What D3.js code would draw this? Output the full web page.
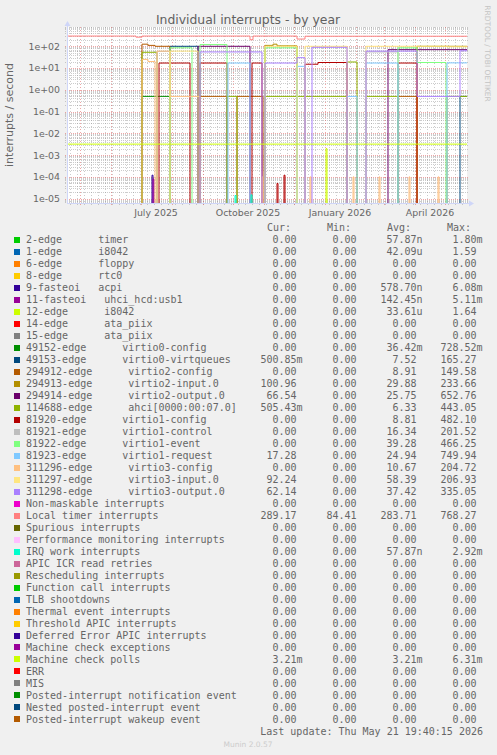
<!DOCTYPE html>
<html><head><meta charset="utf-8">
<script src="https://cdn.jsdelivr.net/npm/d3@7"></script>
<style>
html,body{margin:0;padding:0;background:#F0F0F0;}
svg{display:block;}
</style></head><body>
<svg id="c" width="497" height="755"></svg>
<script>
// ---------- legend / stats ----------
const legendLabels = [
"2-edge      timer","1-edge      i8042","6-edge      floppy","8-edge      rtc0",
"9-fasteoi   acpi","11-fasteoi   uhci_hcd:usb1","12-edge      i8042","14-edge      ata_piix",
"15-edge      ata_piix","49152-edge      virtio0-config","49153-edge      virtio0-virtqueues",
"294912-edge      virtio2-config","294913-edge      virtio2-input.0","294914-edge      virtio2-output.0",
"114688-edge      ahci[0000:00:07.0]","81920-edge      virtio1-config","81921-edge      virtio1-control",
"81922-edge      virtio1-event","81923-edge      virtio1-request","311296-edge      virtio3-config",
"311297-edge      virtio3-input.0","311298-edge      virtio3-output.0","Non-maskable interrupts",
"Local timer interrupts","Spurious interrupts","Performance monitoring interrupts","IRQ work interrupts",
"APIC ICR read retries","Rescheduling interrupts","Function call interrupts","TLB shootdowns",
"Thermal event interrupts","Threshold APIC interrupts","Deferred Error APIC interrupts",
"Machine check exceptions","Machine check polls","ERR","MIS","Posted-interrupt notification event",
"Nested posted-interrupt event","Posted-interrupt wakeup event"];
const colors = ["#00CC00","#0066B3","#FF8000","#FFCC00","#330099","#990099","#CCFF00","#FF0000","#808080",
"#008F00","#00487D","#B35A00","#B38F00","#6B006B","#8FB300","#B30000","#BEBEBE","#80FF80","#80C9FF",
"#FFC080","#FFE680","#AA80FF","#EE00CC","#FF8080","#666600","#FFBFFF","#00FFCC","#CC6699","#999900",
"#00CC00","#0066B3","#FF8000","#FFCC00","#330099","#990099","#CCFF00","#FF0000","#808080","#008F00",
"#00487D","#B35A00"];
const curVals = ["0.00","0.00","0.00","0.00","0.00","0.00","0.00","0.00","0.00","0.00","500.85m","0.00",
"100.96","66.54","505.43m","0.00","0.00","0.00","17.28","0.00","92.24","62.14","0.00","289.17","0.00","0.00",
"0.00","0.00","0.00","0.00","0.00","0.00","0.00","0.00","0.00","3.21m","0.00","0.00","0.00","0.00","0.00"];
const minVals = ["0.00","0.00","0.00","0.00","0.00","0.00","0.00","0.00","0.00","0.00","0.00","0.00",
"0.00","0.00","0.00","0.00","0.00","0.00","0.00","0.00","0.00","0.00","0.00","84.41","0.00","0.00",
"0.00","0.00","0.00","0.00","0.00","0.00","0.00","0.00","0.00","0.00","0.00","0.00","0.00","0.00","0.00"];
const avgVals = ["57.87n","42.09u","0.00","0.00","578.70n","142.45n","33.61u","0.00","0.00","36.42m","7.52",
"8.91","29.88","25.75","6.33","8.81","16.34","39.28","24.94","10.67","58.39","37.42","0.00","283.71","0.00",
"0.00","57.87n","0.00","0.00","0.00","0.00","0.00","0.00","0.00","0.00","3.21m","0.00","0.00","0.00","0.00","0.00"];
const maxVals = ["1.80m","1.59","0.00","0.00","6.08m","5.11m","1.64","0.00","0.00","728.52m","165.27",
"149.58","233.66","652.76","443.05","482.10","201.52","466.25","749.94","204.72","206.93","335.05","0.00",
"768.27","0.00","0.00","2.92m","0.00","0.00","0.00","0.00","0.00","0.00","0.00","0.00","6.31m","0.00",
"0.00","0.00","0.00","0.00"];

// ---------- series data: [date, interrupts/s] step points ----------
const sAcpi = [["2025-07-12",1.2e-4],["2025-07-13",0]];
const sUsb = [["2025-07-13",8e-5],["2025-07-14",0]];
const sI8042b = [["2026-01-02",2e-3],["2026-01-03",0]];
const s49152 = [["2025-07-02",0.5],["2025-07-30",0]];
const s49153 = [["2025-07-30",100],["2025-08-27",0],["2026-05-16",0.5],["2026-05-23",0.5]];
const s294912 = [["2025-07-02",125],["2025-07-08",110],["2025-07-15",100],["2025-07-30",0],["2025-08-29",0.5],
  ["2025-09-25",0],["2025-10-05",0.5],["2025-10-31",0],["2026-03-15",0.5],["2026-04-03",0]];
const s294913 = [["2025-11-02",110],["2025-11-10",125],["2025-11-14",105],["2025-12-04",0],["2026-04-03",100],["2026-05-23",100]];
const s294914 = [["2025-08-27",100],["2025-10-18",0],["2026-03-05",70],["2026-05-23",66]];
const s114688 = [["2025-07-02",53],["2025-07-17",0],["2025-09-25",0.5],["2025-10-05",0],["2025-11-02",0.5],
  ["2026-01-23",0],["2026-01-23",19],["2026-02-02",0],["2026-02-11",0.5],["2026-03-15",0],["2026-05-03",0.5],["2026-05-23",0.5]];
const s81920 = [["2025-07-19",17],["2025-08-19",0],["2025-08-29",17],["2025-09-25",0],["2025-10-20",17],
  ["2025-10-30",0],["2025-11-14",5e-5],["2025-11-15",0],["2025-11-21",1.2e-4],["2025-11-22",0],
  ["2025-12-12",15],["2025-12-25",18],["2026-01-23",0],["2026-03-15",17],["2026-04-03",0]];
const s81921 = [["2025-07-17",58],["2025-07-30",0],["2026-02-11",55],["2026-03-15",0]];
const s81922 = [["2025-07-30",85],["2025-08-21",0],["2025-08-29",120],["2025-09-25",0],["2025-11-02",85],
  ["2025-12-04",0],["2026-03-15",85],["2026-04-03",18],["2026-05-02",0]];
const s81923 = [["2025-09-26",17],["2025-10-18",0],["2025-12-04",12],["2025-12-12",0],["2026-01-23",0.5],
  ["2026-02-02",0],["2026-02-11",17],["2026-03-15",0],["2026-05-03",17.3],["2026-05-23",17.3]];
const s311296 = [["2025-07-02",25],["2025-07-08",20],["2025-07-15",0],["2025-07-17",60],["2025-07-30",0.5],
  ["2025-08-29",0],["2025-10-30",1e-4],["2025-10-31",0],["2025-12-17",1e-4],["2025-12-18",0],
  ["2026-01-29",1e-4],["2026-01-30",0],["2026-02-24",1e-4],["2026-02-25",0],["2026-03-26",1e-4],
  ["2026-03-27",0],["2026-04-24",1e-4],["2026-04-25",0]];
const s311297 = [["2025-07-30",60],["2025-08-27",0],["2025-11-02",100],["2025-12-04",0],["2025-12-12",100],
  ["2026-01-23",0],["2026-02-11",100],["2026-05-03",95],["2026-05-23",92]];
const s311298 = [["2025-08-29",55],["2025-10-30",0],["2025-11-02",17],["2025-12-04",30],["2025-12-12",0],["2025-12-19",90],
  ["2026-01-23",0],["2026-02-11",60],["2026-04-03",0.5],["2026-05-16",62],["2026-05-23",62]];
const sLocalTimer = [["2025-04-18",295],["2025-06-26",262],["2025-07-02",295],["2025-10-18",200],
  ["2025-10-21",295],["2025-12-04",215],["2025-12-12",290],["2026-05-23",289]];
const sIrqWork = [["2025-10-03",1.4e-5],["2025-10-04",0],["2025-10-19",1.5e-5],["2025-10-20",0]];
const sMcPolls = [["2025-04-18",0.00321],["2026-05-23",0.00321]];

const seriesByIndex = {4:sAcpi,5:sUsb,6:sI8042b,9:s49152,10:s49153,11:s294912,12:s294913,13:s294914,
  14:s114688,15:s81920,16:s81921,17:s81922,18:s81923,19:s311296,20:s311297,21:s311298,23:sLocalTimer,
  26:sIrqWork,35:sMcPolls};

const yTickLabels = ["1e-05","1e-04","1e-03","1e-02","1e-01","1e+00","1e+01","1e+02"];

// ---------- drawing ----------
const svg = d3.select("#c");
const P = {l:67, r:467, t:27, b:203};
const parse = d3.utcParse("%Y-%m-%d");
const x = d3.scaleUtc().domain([parse("2025-04-18"), parse("2026-05-23")]).range([P.l, P.r]);
const y = d3.scaleLog().domain([Math.pow(10,-5.198), Math.pow(10,2.886)]).range([P.b, P.t]);

svg.append("rect").attr("width",497).attr("height",755).attr("fill","#F0F0F0");
svg.append("rect").attr("x",P.l).attr("y",P.t).attr("width",P.r-P.l).attr("height",P.b-P.t).attr("fill","#fff");

const gridMinor = "rgba(143,143,143,0.45)", gridMajor = "rgba(222,79,79,0.5)";
const g = svg.append("g").attr("shape-rendering","crispEdges");
for (let e=-6;e<=2;e++) for (let m=2;m<=9;m++){
  const v=m*Math.pow(10,e); const yy=Math.round(y(v))+0.5;
  if (yy<P.t||yy>P.b) continue;
  g.append("line").attr("x1",P.l-2).attr("x2",P.r+1).attr("y1",yy).attr("y2",yy)
   .attr("stroke",gridMinor).attr("stroke-dasharray","1,1");
}
d3.utcMonday.range(x.domain()[0], x.domain()[1]).forEach(d=>{
  const xx=Math.round(x(d))+0.5;
  g.append("line").attr("x1",xx).attr("x2",xx).attr("y1",P.t).attr("y2",P.b+2)
   .attr("stroke",gridMinor).attr("stroke-dasharray","1,2");
});
yTickLabels.forEach(t=>{
  const yy=Math.round(y(+t))+0.5;
  g.append("line").attr("x1",P.l-2).attr("x2",P.r+1).attr("y1",yy).attr("y2",yy)
   .attr("stroke",gridMajor).attr("stroke-dasharray","1,1");
});
d3.utcMonth.range(x.domain()[0], x.domain()[1]).forEach(d=>{
  const xx=Math.round(x(d))+0.5;
  g.append("line").attr("x1",xx).attr("x2",xx).attr("y1",P.t).attr("y2",P.b+3)
   .attr("stroke",gridMajor).attr("stroke-dasharray","1,2");
});

svg.append("clipPath").attr("id","pc").append("rect")
  .attr("x",P.l).attr("y",P.t).attr("width",P.r-P.l+1).attr("height",P.b-P.t);
const line = d3.line().x(d=>x(d.date)).y(d=>d.v>0?y(d.v):P.b+10).curve(d3.curveStepAfter);
const lg = svg.append("g").attr("clip-path","url(#pc)");
Object.keys(seriesByIndex).map(Number).sort((a,b)=>a-b).forEach(i=>{
  const pts = seriesByIndex[i].map(p=>({date:parse(p[0]), v:p[1]}));
  pts.unshift({date:pts[0].date, v:0});
  lg.append("path").attr("d",line(pts)).attr("fill","none").attr("stroke",colors[i]).attr("stroke-width",1);
});

const ax = svg.append("g");
ax.append("line").attr("x1",P.l).attr("x2",P.r+2).attr("y1",P.b+0.5).attr("y2",P.b+0.5).attr("stroke","#CFD6F8");
ax.append("line").attr("x1",P.l+0.5).attr("x2",P.l+0.5).attr("y1",P.b+1).attr("y2",P.t-1).attr("stroke","#CFD6F8");
ax.append("path").attr("d",`M${P.r+2},${P.b-2.5}L${P.r+7},${P.b+0.5}L${P.r+2},${P.b+3.5}Z`).attr("fill","#CFD6F8");
ax.append("path").attr("d",`M${P.l-2.5},${P.t-1}L${P.l+0.5},${P.t-6}L${P.l+3.5},${P.t-1}Z`).attr("fill","#CFD6F8");

const font = "DejaVu Sans, sans-serif", mono = "DejaVu Sans Mono, monospace", fc = "#666";
yTickLabels.forEach(t=>{
  svg.append("text").attr("x",60).attr("y",y(+t)).attr("dy","0.36em").attr("text-anchor","end")
   .attr("font-family",font).attr("font-size",9.4).attr("fill",fc).text(t);
});
const fmt = d3.utcFormat("%B %Y");
x.ticks(d3.utcMonth.every(3)).forEach(d=>{
  const mid = d3.utcDay.offset(d,15);
  if (x(mid)<P.l+20 || x(mid)>P.r) return;
  svg.append("text").attr("x",x(mid)).attr("y",216).attr("text-anchor","middle")
   .attr("font-family",font).attr("font-size",9.4).attr("fill",fc).text(fmt(d));
});
svg.append("text").attr("x",248).attr("y",24).attr("text-anchor","middle").attr("font-family",font)
  .attr("font-size",12.4).attr("fill","#606060").text("Individual interrupts - by year");
svg.append("text").attr("transform","translate(13,115) rotate(-90)").attr("text-anchor","middle")
  .attr("font-family",font).attr("font-size",11).attr("fill",fc).text("interrupts / second");
svg.append("text").attr("transform","translate(485,53.5) rotate(90)").attr("text-anchor","middle")
  .attr("font-family",font).attr("font-size",7.5).attr("fill","#c4c4c4").text("RRDTOOL / TOBI OETIKER");

const headers = ["Cur:","Min:","Avg:","Max:"];
headers.forEach((h,k)=>svg.append("text").attr("x",267+60*k).attr("y",231).attr("font-family",mono)
  .attr("font-size",10).attr("fill",fc).text(h));
const cols = [curVals,minVals,avgVals,maxVals];
legendLabels.forEach((lab,i)=>{
  const by = 243.3 + 11.985*i;
  svg.append("rect").attr("x",14).attr("y",Math.round(by-6.3)).attr("width",6).attr("height",6).attr("fill",colors[i]);
  svg.append("text").attr("x",26).attr("y",by).attr("xml:space","preserve").style("white-space","pre")
   .attr("font-family",mono).attr("font-size",10).attr("fill",fc).text(lab);
  cols.forEach((arr,k)=>{
    const m = arr[i].match(/^([\d.]+)([a-zA-Z]?)$/);
    const xe = 296.5+60*k;
    svg.append("text").attr("x",xe).attr("y",by).attr("text-anchor","end").attr("font-family",mono)
      .attr("font-size",10).attr("fill",fc).text(m[1]);
    if (m[2]) svg.append("text").attr("x",xe).attr("y",by).attr("font-family",mono)
      .attr("font-size",10).attr("fill",fc).text(m[2]);
  });
});
svg.append("text").attr("x",483).attr("y",734.5).attr("text-anchor","end").attr("font-family",mono)
  .attr("font-size",10).attr("fill",fc).text("Last update: Thu May 21 19:40:15 2026");
svg.append("text").attr("x",248).attr("y",747).attr("text-anchor","middle").attr("font-family",font)
  .attr("font-size",7.5).attr("fill","#cccccc").text("Munin 2.0.57");
</script></body></html>
